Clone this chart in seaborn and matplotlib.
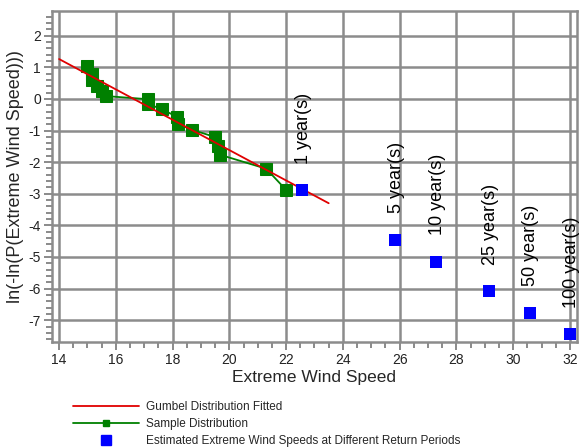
import pandas as pd
import matplotlib.pyplot as plt
import seaborn as sns
from matplotlib.lines import Line2D
from matplotlib.ticker import MultipleLocator

# fitted gumbel line
fit_x = [14.0, 23.5]
fit_y = [1.26, -3.30]

# sample distribution
sample_x = [14.99, 15.17, 15.15, 15.32, 15.50, 15.64, 17.12, 17.14, 17.63,
            18.14, 18.14, 18.19, 18.69, 19.51, 19.60, 19.68, 21.30, 22.00]
sample_y = [1.05, 0.79, 0.60, 0.41, 0.25, 0.09, -0.01, -0.16, -0.33,
            -0.48, -0.64, -0.79, -0.98, -1.21, -1.49, -1.77, -2.21, -2.88]

# estimated extreme wind speeds at return periods
est_x = [22.55, 25.85, 27.29, 29.15, 30.58, 32.02]
est_y = [-2.88, -4.46, -5.15, -6.08, -6.76, -7.44]
est_labels = ['1 year(s)', '5 year(s)', '10 year(s)', '25 year(s)', '50 year(s)', '100 year(s)']

sns.set_style("white")
plt.rcParams['font.family'] = ['Liberation Sans', 'DejaVu Sans']
plt.rcParams['axes.unicode_minus'] = False

fig = plt.figure(figsize=(5.79, 4.48), dpi=100)
ax = fig.add_axes([52/579, 1 - 342/448, 525/579, 331/448])

fit = pd.DataFrame({'x': fit_x, 'y': fit_y})
sample = pd.DataFrame({'x': sample_x, 'y': sample_y})
est = pd.DataFrame({'x': est_x, 'y': est_y})

sns.lineplot(data=fit, x='x', y='y', color='#e00000', linewidth=1.3, sort=False, ax=ax, zorder=4)
sns.lineplot(data=sample, x='x', y='y', color='#008000', linewidth=1.3, sort=False,
             marker='s', markersize=9, markeredgecolor='#008000', ax=ax, zorder=3)
sns.scatterplot(data=est, x='x', y='y', color='#0000ff', marker='s', s=75,
                edgecolor='#0000ff', linewidth=0, ax=ax, zorder=5)

for xv, yv, lab in zip(est_x, est_y, est_labels):
    ax.annotate(lab, (xv, yv), xytext=(1, 19), textcoords='offset points',
                rotation=90, ha='center', va='bottom', fontsize=13, color='black')

ax.set_xlim(13.75, 32.25)
ax.set_ylim(-7.69, 2.78)
ax.xaxis.set_major_locator(MultipleLocator(2))
ax.xaxis.set_minor_locator(MultipleLocator(0.5))
ax.yaxis.set_major_locator(MultipleLocator(1))
ax.yaxis.set_minor_locator(MultipleLocator(0.2))

ax.grid(True, which='major', color='#8c8c8c', linewidth=1.8)
ax.set_axisbelow(True)
for s in ax.spines.values():
    s.set_color('#8c8c8c')
    s.set_linewidth(1.8)

ax.tick_params(which='major', direction='out', length=6, width=1.2, color='#777777',
               labelsize=10, labelcolor='#222222', bottom=True, left=True, pad=2)
ax.tick_params(which='minor', direction='out', length=4, width=1.2, color='#777777',
               bottom=True, left=True)

ax.set_xlabel('Extreme Wind Speed', fontsize=12.5, labelpad=2)
ax.set_ylabel('ln(-ln(P(Extreme Wind Speed)))', fontsize=13, labelpad=3)

handles = [
    Line2D([], [], color='#e00000', linewidth=1.3),
    Line2D([], [], color='#008000', linewidth=1.3, marker='s', markersize=5),
    Line2D([], [], color='#0000ff', linestyle='none', marker='s', markersize=7),
]
labels = ['Gumbel Distribution Fitted', 'Sample Distribution',
          'Estimated Extreme Wind Speeds at Different Return Periods']
fig.legend(handles, labels, loc='upper left', bbox_to_anchor=(73/579, 1 - 401/448),
           frameon=False, fontsize=8.5, handlelength=5.6, handletextpad=0.6,
           labelspacing=0.42, borderpad=0, borderaxespad=0, numpoints=1)

plt.savefig('out.png', dpi=100)
